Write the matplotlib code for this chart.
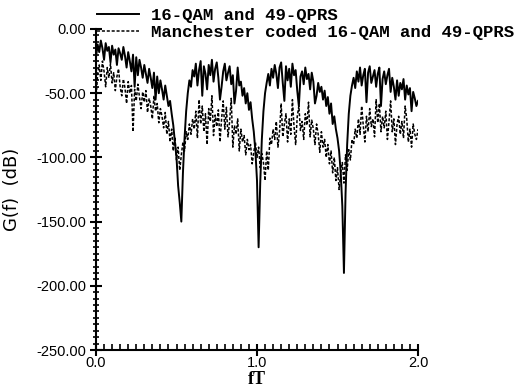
import numpy as np
import matplotlib.pyplot as plt
from matplotlib.ticker import MultipleLocator, FormatStrFormatter

# normalised frequency grid, step 0.01
fT = np.round(np.arange(0, 201) * 0.01, 2)

# 16-QAM and 49-QPRS (dB)
g_qam = [
    -22, -12, -18, -9, -15, -24, -11, -17, -14, -26,
    -13, -20, -16, -28, -15, -19, -24, -14, -21, -30,
    -18, -25, -33, -20, -45, -22, -36, -24, -30, -38,
    -28, -35, -42, -31, -38, -46, -34, -55, -37, -50,
    -40, -47, -55, -44, -52, -60, -56, -66, -75, -88,
    -100, -122, -135, -150, -112, -85, -64, -50, -40, -45,
    -32, -37, -27, -44, -32, -25, -52, -29, -35, -47,
    -28, -36, -24, -41, -31, -26, -38, -55, -45, -33,
    -27, -40, -34, -29, -43, -36, -58, -48, -30, -44,
    -41, -52, -46, -58, -50, -63, -57, -70, -80, -95,
    -118, -170, -120, -86, -64, -50, -42, -35, -44, -31,
    -38, -28, -35, -46, -30, -26, -42, -56, -29, -40,
    -31, -45, -27, -36, -32, -48, -60, -37, -33, -43,
    -30, -39, -35, -47, -34, -41, -58, -52, -42, -49,
    -45, -55, -48, -60, -53, -66, -58, -74, -68, -78,
    -85, -95, -112, -138, -190, -128, -90, -66, -52, -44,
    -38, -46, -33, -41, -30, -44, -36, -31, -57, -34,
    -29, -42, -37, -32, -45, -35, -30, -60, -39, -33,
    -43, -36, -31, -49, -38, -45, -55, -40, -52, -42,
    -47, -39, -55, -44, -51, -46, -64, -49, -54, -60,
    -56,
]

# Manchester coded 16-QAM and 49-QPRS (dB)
g_manch = [
    -55, -35, -28, -40, -25, -33, -45, -30, -38, -27,
    -42, -34, -48, -37, -31, -45, -52, -39, -46, -58,
    -41, -50, -44, -80, -47, -56, -43, -53, -62, -49,
    -57, -48, -65, -54, -60, -70, -52, -64, -58, -73,
    -62, -68, -77, -65, -82, -72, -88, -78, -95, -84,
    -102, -92, -110, -98, -88, -95, -80, -86, -74, -82,
    -70, -78, -64, -85, -55, -74, -60, -80, -66, -90,
    -62, -72, -52, -83, -67, -76, -63, -88, -70, -56,
    -78, -61, -84, -72, -54, -92, -75, -82, -70, -95,
    -78, -88, -83, -98, -86, -94, -90, -105, -96, -88,
    -100, -92, -108, -97, -104, -118, -95, -110, -85, -90,
    -78, -86, -72, -92, -80, -58, -84, -74, -66, -88,
    -70, -82, -55, -76, -90, -68, -60, -79, -72, -86,
    -66, -75, -57, -84, -71, -78, -90, -74, -82, -96,
    -80, -92, -86, -100, -90, -105, -95, -112, -100, -118,
    -108, -125, -112, -104, -120, -98, -110, -94, -102, -86,
    -90, -78, -85, -70, -82, -60, -75, -88, -68, -80,
    -62, -76, -70, -84, -55, -73, -58, -80, -68, -77,
    -64, -86, -72, -56, -80, -70, -90, -74, -68, -82,
    -72, -85, -60, -70, -88, -78, -92, -74, -82, -86,
    -78,
]

labels = ['16-QAM and 49-QPRS', 'Manchester coded 16-QAM and 49-QPRS']

fig = plt.figure(figsize=(5.2, 3.87), dpi=100)
ax = fig.add_axes([96/520, 1-350/387, 322/520, 321/387])

ax.plot(fT, g_qam, color='black', lw=1.4, label=labels[0])
ax.plot(fT, g_manch, color='black', lw=1.1, linestyle=(0, (2, 1.2)), label=labels[1])

ax.set_xlim(0, 2)
ax.set_ylim(-250, 0)
ax.xaxis.set_major_locator(MultipleLocator(1.0))
ax.xaxis.set_minor_locator(MultipleLocator(0.05))
ax.yaxis.set_major_locator(MultipleLocator(50))
ax.yaxis.set_minor_locator(MultipleLocator(5))
ax.xaxis.set_major_formatter(FormatStrFormatter('%.1f'))
ax.yaxis.set_major_formatter(FormatStrFormatter('%.2f'))

for s in ['top', 'right']:
    ax.spines[s].set_visible(False)
for s in ['left', 'bottom']:
    ax.spines[s].set_linewidth(1.5)

ax.tick_params(axis='both', which='major', direction='inout', length=8, width=1.5,
               labelsize=10.5, pad=3)
ax.tick_params(axis='x', which='major', pad=0)
ax.tick_params(axis='y', which='minor', direction='inout', length=5, width=1.2)
ax.tick_params(axis='x', which='minor', direction='in', length=4, width=1.2)
for t in ax.get_xticklabels() + ax.get_yticklabels():
    t.set_family('Liberation Sans')

ax.set_ylabel('G(f)  (dB)', fontsize=13, family='DejaVu Sans')
ax.yaxis.set_label_coords(-0.232, 0.5)
ax.set_xlabel('fT', fontsize=13, family='Liberation Serif', fontweight='bold')
ax.xaxis.set_label_coords(0.5, -0.066)

ax.legend(loc='upper left', bbox_to_anchor=(97/520, 1-8/387), bbox_transform=fig.transFigure,
          frameon=False, borderpad=0, borderaxespad=0, handlelength=2.4, handletextpad=0.7,
          labelspacing=0.1,
          prop={'family': 'Liberation Mono', 'weight': 'bold', 'size': 12.5})

fig.savefig('out.png', dpi=100)
